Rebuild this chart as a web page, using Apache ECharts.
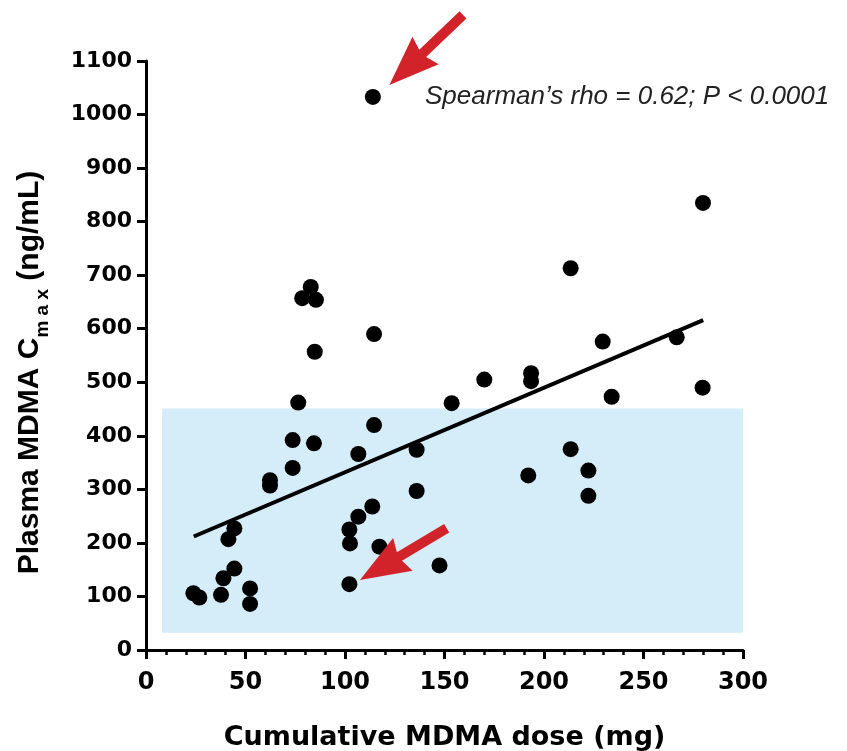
<!DOCTYPE html>
<html>
<head>
<meta charset="utf-8">
<script src="https://cdn.jsdelivr.net/npm/echarts@6/dist/echarts.min.js"></script>
<style>
html,body{margin:0;padding:0;background:#fff;}
#c{width:847px;height:751px;}
</style>
</head>
<body>
<div id="c"></div>
<script>
// Cumulative MDMA dose (mg)
const dose = [23.8, 26.8, 37.7, 38.9, 44.4, 52.3, 52.3, 41.4, 44.4, 62.3, 62.3, 73.7, 73.7, 76.5, 84.4,
  78.5, 82.8, 85.4, 84.8, 114.6, 114.6, 106.7, 136, 136, 113.7, 106.7, 102.2, 102.5, 117.3, 102.2,
  147.5, 114, 153.6, 170, 193.5, 193.5, 192.1, 213.4, 213.4, 222.3, 222.3, 229.5, 234, 266.7, 279.7, 279.9];
// Plasma MDMA Cmax (ng/mL)
const cmax = [106, 98, 103, 134, 152, 115, 86, 207, 227, 317, 307, 340, 392, 462, 386,
  657, 678, 654, 557, 590, 420, 366, 374, 297, 268, 249, 225, 199, 193, 123,
  158, 1033, 461, 505, 517, 502, 326, 713, 375, 335, 288, 576, 473, 584, 490, 835];
// regression line end points [dose, cmax]
const fitLine = [[24, 212], [280, 616]];
// shaded reference band
const bandX = [8, 301];
const bandY = [32, 451];
// annotation arrows in data coords
const arrowTail = [[159.3, 1186], [151.1, 227.3]];
const arrowTip = [[122.3, 1055], [107.5, 130.7]];
const xTicks = [0, 50, 100, 150, 200, 250, 300];
const yTicks = [0, 100, 200, 300, 400, 500, 600, 700, 800, 900, 1000, 1100];
const annotation = 'Spearman\u2019s rho = 0.62; P < 0.0001';

const pts = dose.map((d, i) => [d, cmax[i]]);
const arrowData = arrowTail.map((t, i) => [t[0], t[1], arrowTip[i][0], arrowTip[i][1]]);
const chart = echarts.init(document.getElementById('c'), null, {renderer: 'canvas'});
const wideFont = 'DejaVu Sans, Verdana, sans-serif';
const arialFont = 'Liberation Sans, Arial, Helvetica, sans-serif';

function renderArrow(params, api) {
  const a = api.coord([api.value(0), api.value(1)]);
  const b = api.coord([api.value(2), api.value(3)]);
  const dx = b[0] - a[0], dy = b[1] - a[1];
  const L = Math.sqrt(dx * dx + dy * dy);
  const ux = dx / L, uy = dy / L, nx = -uy, ny = ux;
  const headLen = 50, headHalf = 19, shaftHalf = 5;
  const bx = b[0] - ux * headLen, by = b[1] - uy * headLen;
  return {
    type: 'polygon',
    shape: {points: [
      [a[0] + nx * shaftHalf, a[1] + ny * shaftHalf],
      [bx + nx * shaftHalf + ux * 4, by + ny * shaftHalf + uy * 4],
      [bx + nx * headHalf, by + ny * headHalf],
      [b[0], b[1]],
      [bx - nx * headHalf, by - ny * headHalf],
      [bx - nx * shaftHalf + ux * 4, by - ny * shaftHalf + uy * 4],
      [a[0] - nx * shaftHalf, a[1] - ny * shaftHalf]
    ]},
    style: {fill: '#d2232a'}
  };
}

chart.setOption({
  animation: false,
  grid: {left: 146, right: 104, top: 61, bottom: 101, containLabel: false, outerBoundsMode: 'none'},
  xAxis: {
    type: 'value', min: xTicks[0], max: xTicks[xTicks.length - 1], interval: 50,
    axisLine: {lineStyle: {color: '#000', width: 3}},
    axisTick: {length: 9, lineStyle: {color: '#000', width: 3}},
    minorTick: {show: true, splitNumber: 5, length: 5, lineStyle: {color: '#000', width: 2.5}},
    splitLine: {show: false},
    axisLabel: {color: '#000', fontFamily: wideFont, fontWeight: 'bold', fontSize: 24, margin: 21},
    name: 'Cumulative MDMA dose (mg)', nameLocation: 'middle', nameGap: 74,
    nameTextStyle: {color: '#000', fontFamily: wideFont, fontWeight: 'bold', fontSize: 27}
  },
  yAxis: {
    type: 'value', min: yTicks[0], max: yTicks[yTicks.length - 1], interval: 100,
    axisLine: {lineStyle: {color: '#000', width: 3}},
    axisTick: {length: 9, lineStyle: {color: '#000', width: 3}},
    splitLine: {show: false},
    axisLabel: {color: '#000', fontFamily: wideFont, fontWeight: 'bold', fontSize: 22, margin: 14,
      formatter: v => String(v)},
    name: '{a|Plasma MDMA C}{s|m a x}{e| (ng/mL)}', nameLocation: 'middle', nameGap: 94,
    nameTextStyle: {
      rich: {
        a: {color: '#000', fontFamily: arialFont, fontWeight: 'bold', fontSize: 30, lineHeight: 44, verticalAlign: 'middle'},
        s: {color: '#000', fontFamily: arialFont, fontWeight: 'bold', fontSize: 19, lineHeight: 19, verticalAlign: 'bottom'},
        e: {color: '#000', fontFamily: arialFont, fontWeight: 'bold', fontSize: 30, lineHeight: 44, verticalAlign: 'middle', padding: [0, 34, 0, 0]}
      }
    }
  },
  series: [
    {
      type: 'line', data: fitLine, symbol: 'none', z: 3,
      lineStyle: {color: '#000', width: 4},
      markArea: {
        silent: true,
        itemStyle: {color: '#d5ecf9'},
        data: [[{coord: [bandX[0], bandY[0]]}, {coord: [bandX[1], bandY[1]]}]]
      }
    },
    {
      type: 'scatter', data: pts, symbol: 'circle', symbolSize: 16, z: 4,
      itemStyle: {color: '#000', opacity: 1}
    },
    {
      type: 'custom', data: arrowData, renderItem: renderArrow, clip: false, z: 5, silent: true
    }
  ],
  graphic: [{
    type: 'text', left: 425, top: 84,
    style: {text: annotation, fill: '#222', font: 'italic 26px Liberation Sans, Arial, sans-serif'}
  }]
});
</script>
</body>
</html>
